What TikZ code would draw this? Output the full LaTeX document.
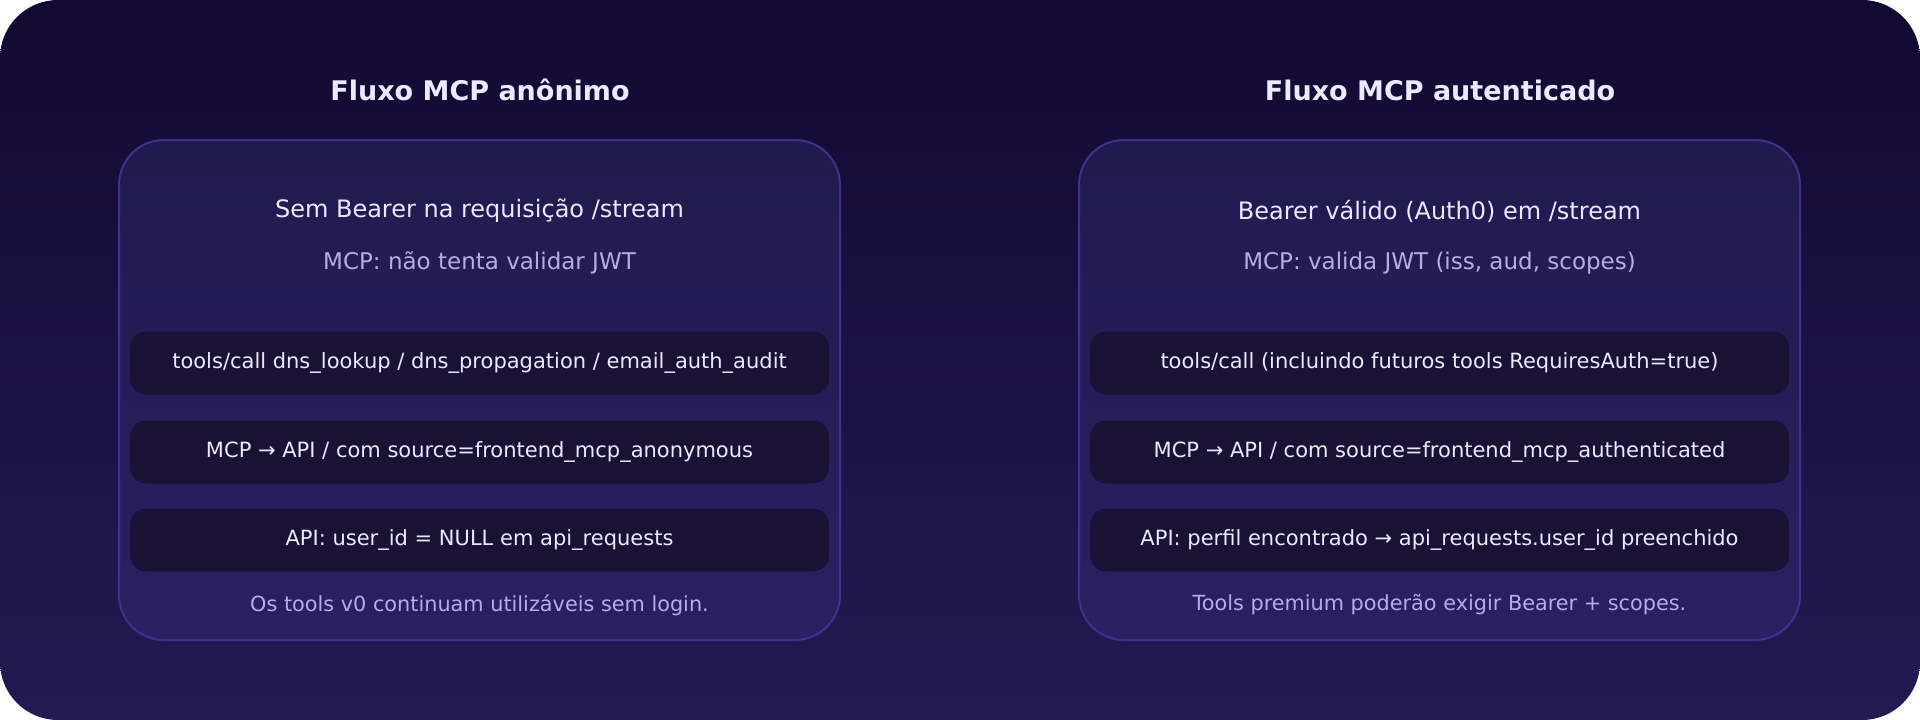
\documentclass[tikz,border=0pt]{standalone}
\usepackage{fontspec}
\setmainfont{DejaVu Sans}
\newcommand{\rarr}{\char"2192}
\definecolor{bgA}{HTML}{120A31}
\definecolor{bgB}{HTML}{231A52}
\definecolor{panA}{HTML}{211A4E}
\definecolor{panB}{HTML}{2B2062}
\definecolor{panBorder}{HTML}{3E3190}
\definecolor{boxFill}{HTML}{191235}
\definecolor{txtMain}{HTML}{ECE8FF}
\definecolor{txtSoft}{HTML}{B6ACE8}
\tikzset{
  titletext/.style={font=\fontsize{27}{32}\selectfont\bfseries, text=txtMain, anchor=center},
  panelbox/.style={draw=panBorder, line width=2pt, rounded corners=45pt, top color=panA, bottom color=panB, minimum width=721pt, minimum height=500pt, inner sep=0pt},
  headtext/.style={font=\fontsize{24}{28}\selectfont, text=txtMain},
  subtext/.style={font=\fontsize{23}{27}\selectfont, text=txtSoft},
  stepbox/.style={fill=boxFill, rounded corners=16pt, minimum width=699pt, minimum height=63pt, inner sep=0pt, font=\fontsize{21}{25}\selectfont, text=txtMain},
  foottext/.style={font=\fontsize{20.8}{25}\selectfont, text=txtSoft},
}
\begin{document}
\begin{tikzpicture}[x=1pt,y=-1pt]
\useasboundingbox (0,0) rectangle (1920,720);
\shade[rounded corners=58pt, shading angle=135, top color=bgA, bottom color=bgB] (0,0) rectangle (1920,720);

% left
\node[titletext] (t1) at (480,90) {Fluxo MCP anônimo};
\node[panelbox] (p1) at (479.5,390) {};
\node[headtext] (h1) at (479.5,211) {Sem Bearer na requisição /stream};
\node[subtext] (s1) at (479.5,263) {MCP: não tenta validar JWT};
\node[stepbox] (a1) at (479.5,363) {tools/call dns\_lookup / dns\_propagation / email\_auth\_audit};
\node[stepbox] (a2) at (479.5,452) {MCP \rarr{} API / com source=frontend\_mcp\_anonymous};
\node[stepbox] (a3) at (479.5,540) {API: user\_id = NULL em api\_requests};
\node[foottext] (f1) at (479.5,605) {Os tools v0 continuam utilizáveis sem login.};

% right
\node[titletext] (t2) at (1440,90) {Fluxo MCP autenticado};
\node[panelbox] (p2) at (1439.5,390) {};
\node[headtext] (h2) at (1439.5,211) {Bearer válido (Auth0) em /stream};
\node[subtext] (s2) at (1439.5,263) {MCP: valida JWT (iss, aud, scopes)};
\node[stepbox] (b1) at (1439.5,363) {tools/call (incluindo futuros tools RequiresAuth=true)};
\node[stepbox] (b2) at (1439.5,452) {MCP \rarr{} API / com source=frontend\_mcp\_authenticated};
\node[stepbox] (b3) at (1439.5,540) {API: perfil encontrado \rarr{} api\_requests.user\_id preenchido};
\node[foottext] (f2) at (1439.5,605) {Tools premium poderão exigir Bearer + scopes.};
\end{tikzpicture}
\end{document}
